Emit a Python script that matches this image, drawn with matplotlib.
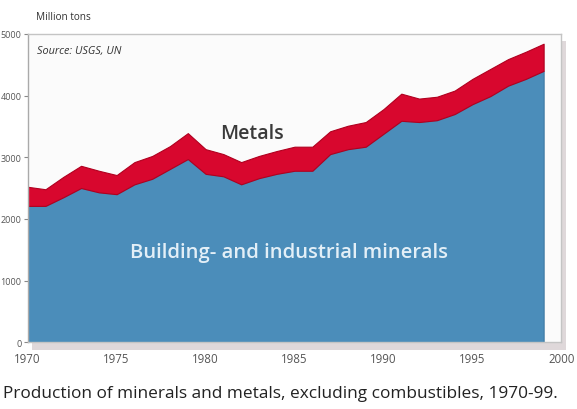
import matplotlib.pyplot as plt
from matplotlib.patches import Rectangle

# production, million tons
years = list(range(1970, 2000))
minerals = [2210, 2210, 2350, 2500, 2430, 2400, 2560, 2650, 2810, 2970,
            2730, 2690, 2560, 2660, 2730, 2780, 2780, 3050, 3130, 3170,
            3380, 3590, 3570, 3600, 3700, 3860, 3990, 4160, 4270, 4400]
total = [2520, 2480, 2680, 2860, 2780, 2710, 2920, 3020, 3180, 3390,
         3130, 3050, 2920, 3020, 3100, 3170, 3170, 3420, 3510, 3570,
         3780, 4030, 3950, 3980, 4080, 4270, 4430, 4590, 4710, 4840]
x_ticks = [1970, 1975, 1980, 1985, 1990, 1995, 2000]
y_ticks = [0, 1000, 2000, 3000, 4000, 5000]

blue = "#4b8dba"
red = "#d8072e"

plt.rcParams['font.family'] = ['Open Sans', 'DejaVu Sans']

fig = plt.figure(figsize=(5.77, 4.10), dpi=100)
ax = fig.add_axes([0.048, 0.163, 0.925, 0.752])
ax.set_zorder(2)

# soft drop shadow behind the plot box
shadow = Rectangle((0.056, 0.145), 0.925, 0.752, transform=fig.transFigure,
                   facecolor="#cbbfc2", edgecolor="none", alpha=0.6, zorder=-1)
fig.patches.append(shadow)

ax.set_facecolor("#fbfbfb")
ax.fill_between(years, 0, minerals, color=blue, lw=0.8, edgecolor="#3f7aa3", zorder=2)
ax.fill_between(years, minerals, total, color=red, lw=0.8, edgecolor="#b0001f", zorder=2)

ax.set_xlim(1970, 2000)
ax.set_ylim(0, 5000)
ax.set_xticks(x_ticks)
ax.set_yticks(y_ticks)
ax.tick_params(axis="y", colors="#888888", labelcolor="#555555", labelsize=6.5,
               length=3, width=0.8, pad=1.5)
ax.tick_params(axis="x", length=0, pad=7, labelcolor="#555555", labelsize=8.3)
for s in ax.spines.values():
    s.set_color("#c4c4c4")
    s.set_linewidth(1.0)
ax.spines["left"].set_color("#aaaaaa")

fig.text(0.062, 0.958, "Million tons", fontsize=7.2, color="#333333", va="center")
ax.text(0.018, 0.965, "Source: USGS, UN", transform=ax.transAxes, fontsize=7.8,
        style="italic", color="#333333", va="top")
ax.text(1982.6, 3400, "Metals", fontsize=14, color="#3a3a3a", ha="center", va="center",
        fontweight="semibold", zorder=3)
ax.text(1984.7, 1470, "Building- and industrial minerals", fontsize=14.6, color="#e3eff7",
        ha="center", va="center", fontweight="semibold", zorder=3)

fig.text(0.005, 0.04, "Production of minerals and metals, excluding combustibles, 1970-99.",
         fontsize=12.4, color="#222222", va="center")

fig.savefig("out.png", dpi=100)
